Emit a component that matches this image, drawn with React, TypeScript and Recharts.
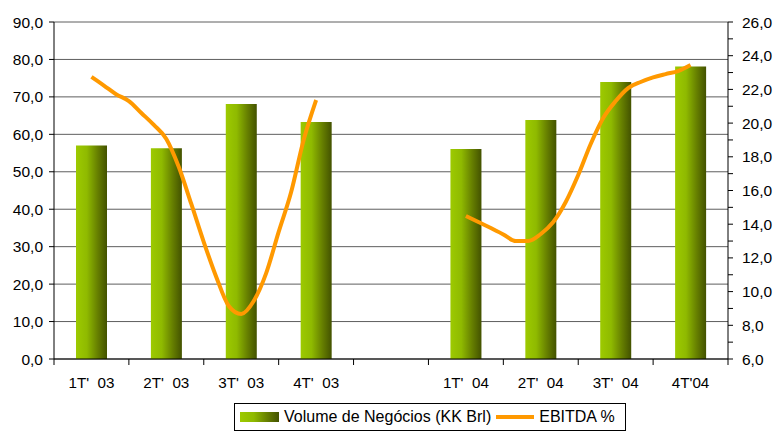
import { ComposedChart, Bar, Line, XAxis, YAxis, CartesianGrid } from 'recharts';

// quarter labels, one slot left empty between the two years
const quarters = ["1T'  03", "2T'  03", "3T'  03", "4T'  03", '', "1T'  04", "2T'  04", "3T'  04", "4T'04"];
const volume = [57.0, 56.3, 68.1, 63.3, null, 56.1, 63.8, 74.0, 78.1];

// EBITDA % read every half month, from the 1st to the 4th quarter of each year
const ebitda03 = [
    22.74, 22.23, 21.7, 21.31, 20.6, 19.89, 19.06, 17.39, 15.2, 12.94,
    10.87, 9.15, 8.67, 9.44, 11.1, 13.54, 15.91, 19.0, 21.37,
];
const ebitda04 = [
    14.49, 14.13, 13.77, 13.39, 13.0, 13.0, 13.42, 14.13, 15.32, 16.92,
    18.76, 20.3, 21.31, 22.08, 22.44, 22.71, 22.91, 23.09, 23.45,
];

const leftTicks = [0, 10, 20, 30, 40, 50, 60, 70, 80, 90];
const rightTicks = [6, 7, 8, 9, 10, 11, 12, 13, 14, 15, 16, 17, 18, 19, 20, 21, 22, 23, 24, 25, 26];

const W = 774;
const H = 432;
const LEFT_W = 54;
const RIGHT_W = 46;
const BAND = (W - LEFT_W - RIGHT_W) / quarters.length;
const FONT = '"Liberation Sans", Arial, sans-serif';

const barData = quarters.map((q, i) => ({ t: i + 0.5, label: q, volume: volume[i] }));

const lineData = [
    ...ebitda03.map((v, i) => ({ t: 0.5 + i / 6, ebitda: v })),
    { t: 4.5, ebitda: null },
    ...ebitda04.map((v, i) => ({ t: 5.5 + i / 6, ebitda: v })),
];

const fmt = (v: number) => v.toFixed(1).replace('.', ',');

function QuarterTick({ x, y, payload }: any) {
    const label = quarters[payload.value];
    if (!label) return null;
    return (
        <text x={x + BAND / 2} y={y} dy={21} textAnchor="middle" fontSize={15.2} fill="#000" style={{ whiteSpace: 'pre' }}>
            {label}
        </text>
    );
}

function EbitdaTick({ x, y, payload }: any) {
    if (payload.value % 2 !== 0) return null;
    return (
        <text x={x} y={y} dy="0.355em" textAnchor="start" fontSize={15.5} fill="#000">
            {fmt(payload.value)}
        </text>
    );
}

export default function App() {
    return (
        <div style={{ position: 'absolute', left: 0, top: 0, width: W, height: H, background: '#fff', fontFamily: FONT }}>
            <ComposedChart
                width={W}
                height={H}
                data={barData}
                margin={{ top: 22, right: 0, left: 0, bottom: 43 }}
                style={{ fontFamily: FONT }}
            >
                <defs>
                    <linearGradient id="barGreen" x1="0" y1="0" x2="1" y2="0">
                        <stop offset="0%" stopColor="#9dca00" />
                        <stop offset="35%" stopColor="#8fba00" />
                        <stop offset="70%" stopColor="#667f00" />
                        <stop offset="100%" stopColor="#435200" />
                    </linearGradient>
                </defs>
                <CartesianGrid vertical={false} stroke="#5e5e5e" yAxisId="left" />
                <XAxis
                    dataKey="t"
                    type="number"
                    domain={[0, 9]}
                    ticks={[0, 1, 2, 3, 4, 5, 6, 7, 8, 9]}
                    interval={0}
                    height={30}
                    stroke="#000"
                    tickSize={6}
                    tick={<QuarterTick />}
                    allowDataOverflow
                />
                {/* same span as the quarter axis, carries the finer EBITDA samples */}
                <XAxis xAxisId="line" dataKey="t" type="number" domain={[0, 9]} hide allowDataOverflow />
                <YAxis
                    yAxisId="left"
                    domain={[0, 90]}
                    ticks={leftTicks}
                    interval={0}
                    width={LEFT_W}
                    stroke="#000"
                    tickSize={5}
                    tickMargin={6}
                    tickFormatter={fmt}
                    tick={{ fill: '#000', fontSize: 15.5 }}
                />
                <YAxis
                    yAxisId="right"
                    orientation="right"
                    domain={[6, 26]}
                    ticks={rightTicks}
                    interval={0}
                    width={RIGHT_W}
                    stroke="#000"
                    tickSize={5}
                    tickMargin={9}
                    tick={<EbitdaTick />}
                />
                <Bar
                    yAxisId="left"
                    dataKey="volume"
                    barSize={31}
                    fill="url(#barGreen)"
                    isAnimationActive={false}
                />
                <Line
                    xAxisId="line"
                    yAxisId="right"
                    data={lineData}
                    dataKey="ebitda"
                    type="monotone"
                    stroke="#ff9900"
                    strokeWidth={4}
                    dot={false}
                    activeDot={false}
                    connectNulls={false}
                    isAnimationActive={false}
                />
            </ComposedChart>
            <div
                style={{
                    position: 'absolute',
                    left: 234,
                    top: 403,
                    width: 390,
                    height: 26,
                    border: '1px solid #000',
                    display: 'flex',
                    alignItems: 'center',
                    fontSize: 16,
                    color: '#000',
                    whiteSpace: 'nowrap',
                }}
            >
                <span
                    style={{
                        display: 'inline-block',
                        width: 39,
                        height: 10,
                        marginLeft: 5,
                        marginRight: 5,
                        background: 'linear-gradient(to right, #9dca00 0%, #8fba00 35%, #667f00 70%, #435200 100%)',
                    }}
                />
                <span>Volume de Negócios (KK Brl)</span>
                <span
                    style={{
                        display: 'inline-block',
                        width: 38,
                        height: 4,
                        marginLeft: 5,
                        marginRight: 5,
                        background: '#ff9900',
                    }}
                />
                <span>EBITDA %</span>
            </div>
        </div>
    );
}
